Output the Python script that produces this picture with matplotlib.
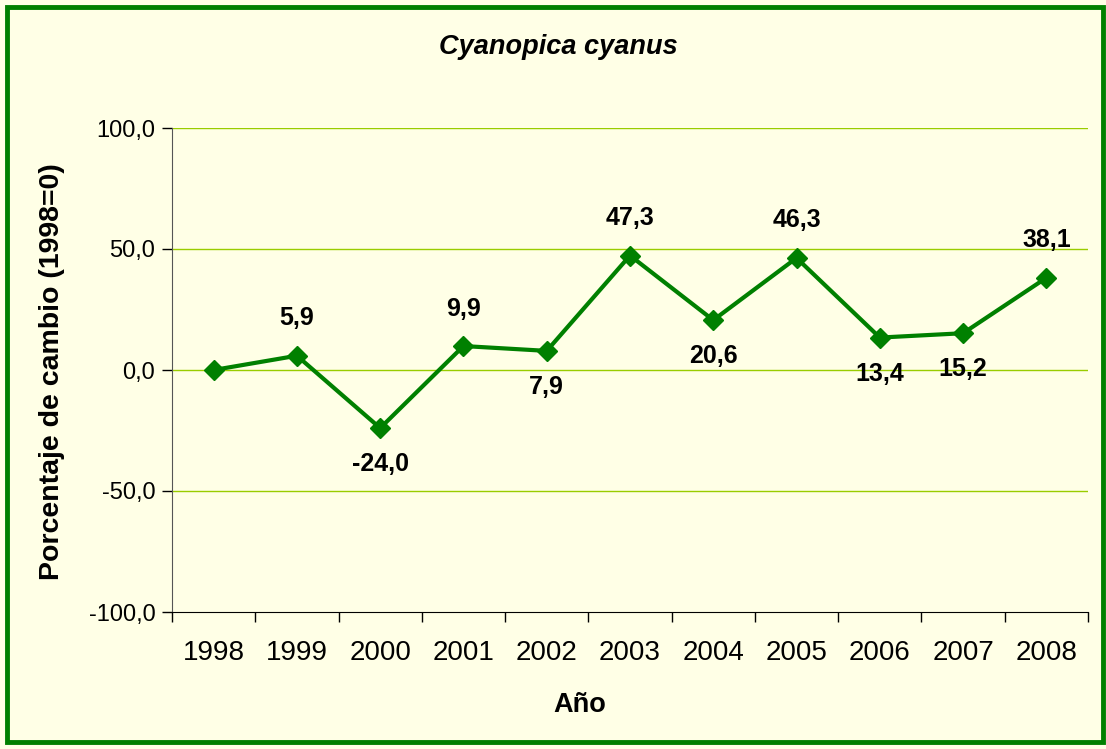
import matplotlib
matplotlib.use("Agg")
import matplotlib.pyplot as plt
from matplotlib.patches import Rectangle

years = ["1998", "1999", "2000", "2001", "2002", "2003", "2004", "2005", "2006", "2007", "2008"]
values = [0.0, 5.9, -24.0, 9.9, 7.9, 47.3, 20.6, 46.3, 13.4, 15.2, 38.1]
label_pos = [None, "above", "below", "above", "below", "above", "below", "above", "below", "below", "above"]
yticks = [-100, -50, 0, 50, 100]

plt.rcParams['font.family'] = ['Liberation Sans', 'DejaVu Sans']

bg = "#FFFFE6"
green = "#008000"
grid = "#99CC00"

fig = plt.figure(figsize=(11.06, 7.49), dpi=100, facecolor=bg)
fig.patches.append(Rectangle((7/1106, 7/749), 1096/1106, 735/749, transform=fig.transFigure,
                             fill=False, edgecolor=green, linewidth=3.5, zorder=10))

ax = fig.add_axes([172/1106, 1-612/749, (1088-172)/1106, (612-128)/749])
ax.set_facecolor(bg)
x = list(range(len(years)))
ax.plot(x, values, color=green, lw=3, marker="D", markersize=10, zorder=3, clip_on=False)

for xi, v, pos in zip(x, values, label_pos):
    if pos is None:
        continue
    dy = 27 if pos == "above" else -26
    ax.annotate(f"{v:.1f}".replace(".", ","), (xi, v), xytext=(0, dy), textcoords="offset points",
                ha="center", va="center", fontsize=18, fontweight="bold", color="black")

ax.set_xlim(-0.5, len(years) - 0.5)
ax.set_ylim(-100, 100)
ax.set_yticks(yticks)
ax.set_yticklabels([f"{t:.1f}".replace(".", ",") for t in yticks], fontsize=17)
ax.set_xticks(x)
ax.set_xticklabels(years, fontsize=20)
ax.set_xticks([i - 0.5 for i in range(len(years) + 1)], minor=True)
ax.tick_params(axis="x", which="major", length=0, pad=20)
ax.tick_params(axis="x", which="minor", length=7, width=1, color="black", direction="out")
ax.tick_params(axis="y", length=7, width=1, color="black", direction="out", pad=5)

for t in yticks:
    if t != -100:
        ax.axhline(t, color=grid, lw=1, zorder=1)

for s in ["top", "right"]:
    ax.spines[s].set_visible(False)
ax.spines["left"].set_color("#555555")
ax.spines["bottom"].set_color("black")

fig.text(558/1106, 1-47/749, "Cyanopica cyanus", ha="center", va="center", fontsize=19.5,
         style="italic", fontweight="bold")
fig.text(52/1106, 1-372/749, "Porcentaje de cambio (1998=0)", ha="center", va="center",
         rotation=90, fontsize=20.5, fontweight="bold")
fig.text(580/1106, 1-705/749, "Año", ha="center", va="center", fontsize=19.5, fontweight="bold")

fig.savefig("out.png", dpi=100, facecolor=bg)
